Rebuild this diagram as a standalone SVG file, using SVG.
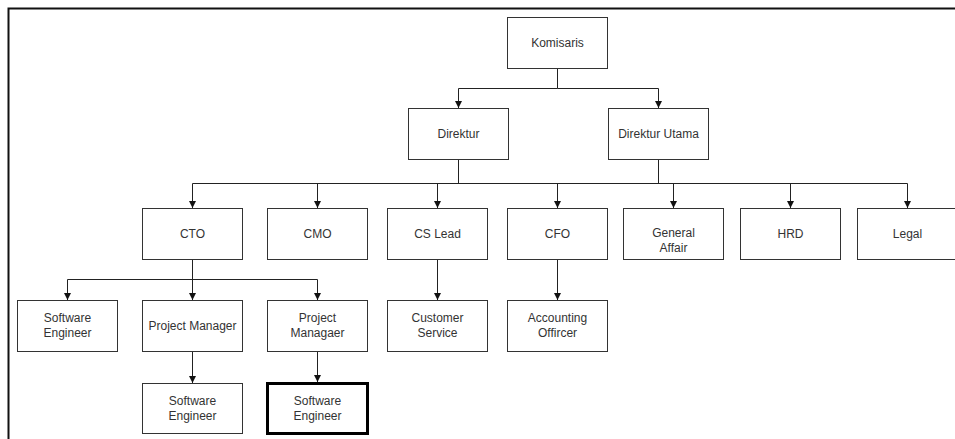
<svg xmlns="http://www.w3.org/2000/svg" width="955" height="439" viewBox="0 0 955 439">
<defs>
<marker id="arr" markerWidth="8" markerHeight="8" refX="7" refY="4" orient="auto" markerUnits="userSpaceOnUse">
<path d="M0,0.5 L7,4 L0,7.5 Z" fill="#111"/>
</marker>
<style>
.box{fill:#fff;stroke:#333;stroke-width:1}
.bold{fill:#fff;stroke:#000;stroke-width:3}
.t{font-family:"Liberation Sans",Arial,sans-serif;font-size:12px;fill:#333;text-anchor:middle}
.c{fill:none;stroke:#222;stroke-width:1}
.ca{fill:none;stroke:#222;stroke-width:1;marker-end:url(#arr)}
.frame{fill:none;stroke:#111;stroke-width:2}
</style>
</defs>
<rect width="955" height="439" fill="#fff"/>
<path class="frame" d="M8.5,439 V8.5 H955"/>
<g id="connectors">
<path class="c" d="M557.5,68 V88.5 H458.5"/>
<path class="ca" d="M458.5,88.5 V108"/>
<path class="c" d="M557.5,88.5 H658.5"/>
<path class="ca" d="M658.5,88.5 V108"/>
<path class="c" d="M458.5,159 V183.5"/>
<path class="c" d="M658.5,159 V183.5"/>
<path class="c" d="M192.5,183.5 H907.5"/>
<path class="ca" d="M192.5,183.5 V208"/>
<path class="ca" d="M317.5,183.5 V208"/>
<path class="ca" d="M437.5,183.5 V208"/>
<path class="ca" d="M557.5,183.5 V208"/>
<path class="ca" d="M673.5,183.5 V208"/>
<path class="ca" d="M790.5,183.5 V208"/>
<path class="ca" d="M907.5,183.5 V208"/>
<path class="c" d="M192.5,259 V279.5"/>
<path class="c" d="M67.5,279.5 H317.5"/>
<path class="ca" d="M67.5,279.5 V300"/>
<path class="ca" d="M192.5,279.5 V300"/>
<path class="ca" d="M317.5,279.5 V300"/>
<path class="ca" d="M437.5,259 V300"/>
<path class="ca" d="M557.5,259 V300"/>
<path class="ca" d="M192.5,351 V383"/>
<path class="ca" d="M317.5,351 V382"/>
</g>
<g id="komisaris"><rect class="box" x="507.5" y="17.5" width="100" height="51"/><text class="t" x="557.5" y="47">Komisaris</text></g>
<g id="direktur"><rect class="box" x="408.5" y="108.5" width="100" height="51"/><text class="t" x="458.5" y="138">Direktur</text></g>
<g id="direktur-utama"><rect class="box" x="608.5" y="108.5" width="100" height="51"/><text class="t" x="658.5" y="138">Direktur Utama</text></g>
<g id="cto"><rect class="box" x="142.5" y="208.5" width="100" height="51"/><text class="t" x="192.5" y="238">CTO</text></g>
<g id="cmo"><rect class="box" x="267.5" y="208.5" width="100" height="51"/><text class="t" x="317.5" y="238">CMO</text></g>
<g id="cs-lead"><rect class="box" x="387.5" y="208.5" width="100" height="51"/><text class="t" x="437.5" y="238">CS Lead</text></g>
<g id="cfo"><rect class="box" x="507.5" y="208.5" width="100" height="51"/><text class="t" x="557.5" y="238">CFO</text></g>
<g id="general-affair"><rect class="box" x="623.5" y="208.5" width="100" height="51"/><text class="t" x="673.5" y="237">General</text><text class="t" x="673.5" y="252">Affair</text></g>
<g id="hrd"><rect class="box" x="740.5" y="208.5" width="100" height="51"/><text class="t" x="790.5" y="238">HRD</text></g>
<g id="legal"><rect class="box" x="857.5" y="208.5" width="100" height="51"/><text class="t" x="907.5" y="238">Legal</text></g>
<g id="software-engineer-1"><rect class="box" x="17.5" y="300.5" width="100" height="51"/><text class="t" x="67.5" y="322">Software</text><text class="t" x="67.5" y="337">Engineer</text></g>
<g id="project-manager"><rect class="box" x="142.5" y="300.5" width="100" height="51"/><text class="t" x="192.5" y="330">Project Manager</text></g>
<g id="project-managaer"><rect class="box" x="267.5" y="300.5" width="100" height="51"/><text class="t" x="317.5" y="322">Project</text><text class="t" x="317.5" y="337">Managaer</text></g>
<g id="customer-service"><rect class="box" x="387.5" y="300.5" width="100" height="51"/><text class="t" x="437.5" y="322">Customer</text><text class="t" x="437.5" y="337">Service</text></g>
<g id="accounting-officer"><rect class="box" x="507.5" y="300.5" width="100" height="51"/><text class="t" x="557.5" y="322">Accounting</text><text class="t" x="557.5" y="337">Offircer</text></g>
<g id="software-engineer-2"><rect class="box" x="142.5" y="383.5" width="100" height="50"/><text class="t" x="192.5" y="405">Software</text><text class="t" x="192.5" y="420">Engineer</text></g>
<g id="software-engineer-3"><rect class="bold" x="267.5" y="383.5" width="100" height="50"/><text class="t" x="317.5" y="405">Software</text><text class="t" x="317.5" y="420">Engineer</text></g>
</svg>
